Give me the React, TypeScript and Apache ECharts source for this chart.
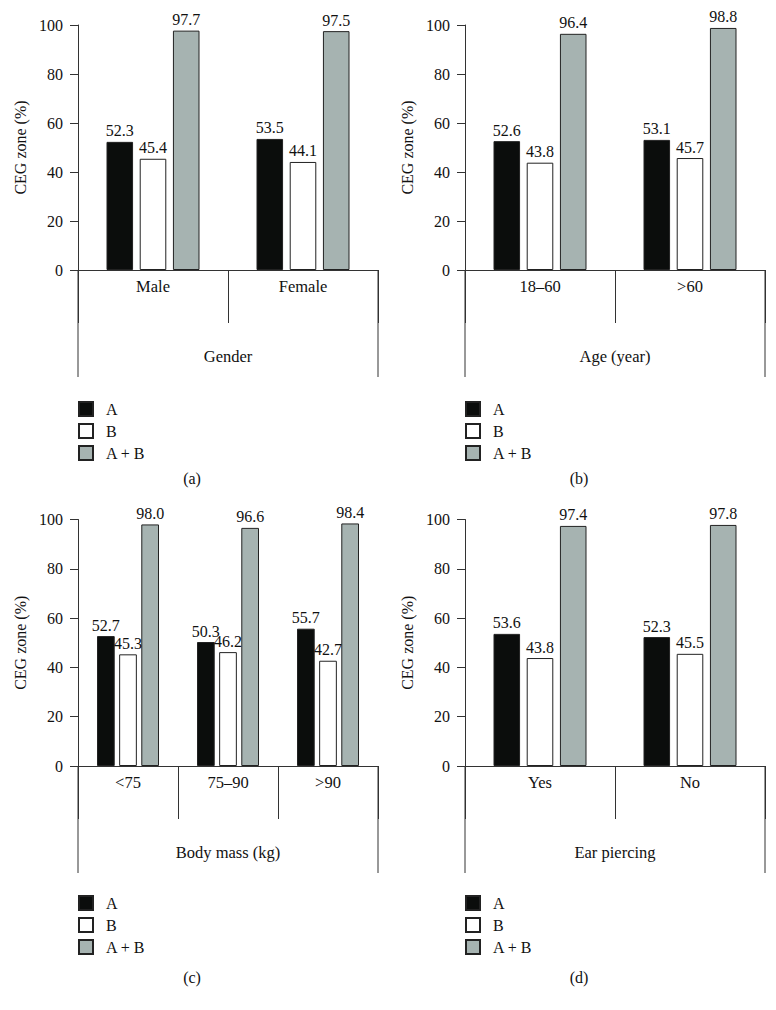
import React, { useEffect, useRef } from "react";
import * as echarts from "echarts";

// ---- data ----
const seriesNames = ["A", "B", "A + B"];

const genderCategories = ["Male", "Female"];
const genderA = [52.3, 53.5];
const genderB = [45.4, 44.1];
const genderAB = [97.7, 97.5];

const ageCategories = ["18–60", ">60"];
const ageA = [52.6, 53.1];
const ageB = [43.8, 45.7];
const ageAB = [96.4, 98.8];

const massCategories = ["<75", "75–90", ">90"];
const massA = [52.7, 50.3, 55.7];
const massB = [45.3, 46.2, 42.7];
const massAB = [98.0, 96.6, 98.4];

const earCategories = ["Yes", "No"];
const earA = [53.6, 52.3];
const earB = [43.8, 45.5];
const earAB = [97.4, 97.8];

const groupNames = ["Gender", "Age (year)", "Body mass (kg)", "Ear piercing"];
const captions = ["(a)", "(b)", "(c)", "(d)"];
const yAxisName = "CEG zone (%)";
const yMin = 0;
const yMax = 100;
const yInterval = 20;

const panelData = [
  { cats: genderCategories, vals: [genderA, genderB, genderAB] },
  { cats: ageCategories, vals: [ageA, ageB, ageAB] },
  { cats: massCategories, vals: [massA, massB, massAB] },
  { cats: earCategories, vals: [earA, earB, earAB] },
];

// ---- layout (pixels) ----
const layout = [
  { left: 78, top: 25, width: 300, height: 245, legendTop: 401, capX: 192, capY: 470 },
  { left: 465, top: 25, width: 300, height: 245, legendTop: 401, capX: 579, capY: 470 },
  { left: 78, top: 519.5, width: 300, height: 246.5, legendTop: 895, capX: 192, capY: 969 },
  { left: 465, top: 519.5, width: 300, height: 246.5, legendTop: 895, capX: 579, capY: 969 },
];

const FONT = "'Liberation Serif', 'Times New Roman', serif";
const AXIS = "#333333";
const TEXT = "#111111";
const fills = ["#0b0d0c", "#ffffff", "#a6b3b1"];

export default function App() {
  const ref = useRef<HTMLDivElement>(null);

  useEffect(() => {
    if (!ref.current) return;
    const chart = echarts.init(ref.current, undefined, { renderer: "svg" });

    const grid: any[] = [];
    const xAxis: any[] = [];
    const yAxis: any[] = [];
    const series: any[] = [];
    const legend: any[] = [];
    const title: any[] = [];
    const graphic: any[] = [];

    panelData.forEach((p, i) => {
      const L = layout[i];
      grid.push({
        left: L.left,
        top: L.top,
        width: L.width,
        height: L.height,
        containLabel: false,
        outerBoundsMode: "none",
      });
      xAxis.push({
        type: "category",
        gridIndex: i,
        data: p.cats,
        axisLine: { show: true, lineStyle: { color: AXIS, width: 1 } },
        axisTick: { show: true, length: 53, lineStyle: { color: AXIS, width: 1 } },
        axisLabel: { color: TEXT, fontFamily: FONT, fontSize: 16.5, margin: 8 },
        name: groupNames[i],
        nameLocation: "middle",
        nameGap: 78,
        nameTextStyle: { color: TEXT, fontFamily: FONT, fontSize: 16.5 },
        splitLine: { show: false },
      });
      yAxis.push({
        type: "value",
        gridIndex: i,
        min: yMin,
        max: yMax,
        interval: yInterval,
        axisLine: { show: true, lineStyle: { color: AXIS, width: 1 } },
        axisTick: { show: true, length: 8, lineStyle: { color: AXIS, width: 1 } },
        axisLabel: { color: TEXT, fontFamily: FONT, fontSize: 16, margin: 15 },
        splitLine: { show: false },
        name: yAxisName,
        nameLocation: "middle",
        nameGap: 50,
        nameTextStyle: { color: TEXT, fontFamily: FONT, fontSize: 16 },
      });
      p.vals.forEach((vals, k) => {
        series.push({
          type: "bar",
          name: seriesNames[k],
          xAxisIndex: i,
          yAxisIndex: i,
          data: vals,
          barCategoryGap: "38%",
          barGap: "25%",
          itemStyle: { color: fills[k], borderColor: "#222222", borderWidth: 1 },
          label: {
            show: true,
            position: "top",
            distance: 3,
            color: TEXT,
            fontFamily: FONT,
            fontSize: 16,
            formatter: (d: any) => Number(d.value).toFixed(1),
          },
          emphasis: { disabled: true },
        });
      });
      legend.push({
        data: seriesNames,
        orient: "vertical",
        left: L.left,
        top: L.legendTop,
        padding: 0,
        itemWidth: 14,
        itemHeight: 14,
        itemGap: 6,
        icon: "rect",
        selectedMode: false,
        textStyle: { color: TEXT, fontFamily: FONT, fontSize: 16, padding: [0, 0, 0, 8] },
      });
      title.push({
        text: captions[i],
        left: L.capX,
        top: L.capY,
        padding: 0,
        textAlign: "center",
        textStyle: { color: TEXT, fontFamily: FONT, fontSize: 16, fontWeight: "normal" },
      });
      const y0 = L.top + L.height;
      [L.left, L.left + L.width].forEach((x) => {
        graphic.push({
          type: "line",
          shape: { x1: x, y1: y0, x2: x, y2: y0 + 107 },
          style: { stroke: AXIS, lineWidth: 1 },
          silent: true,
        });
      });
    });

    chart.setOption({
      animation: false,
      backgroundColor: "#ffffff",
      grid,
      xAxis,
      yAxis,
      series,
      legend,
      title,
      graphic,
      tooltip: { show: false },
    });

    return () => chart.dispose();
  }, []);

  return (
    <div
      ref={ref}
      style={{ position: "absolute", left: 0, top: 0, width: 776, height: 1010 }}
    />
  );
}
